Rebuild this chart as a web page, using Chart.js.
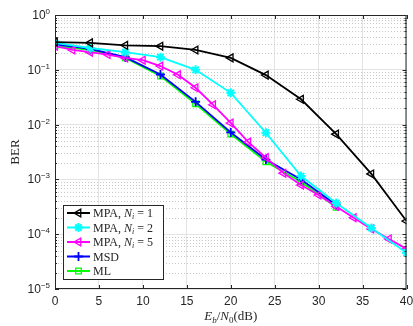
<!DOCTYPE html>
<html>
<head>
<meta charset="utf-8">
<script src="https://cdn.jsdelivr.net/npm/chart.js@4.4.1/dist/chart.umd.min.js"></script>
<style>
  html, body { margin: 0; padding: 0; background: #fff; }
  #wrap { width: 413px; height: 326px; }
</style>
</head>
<body>
<div id="wrap"><canvas id="myChart" width="413" height="326"></canvas></div>
<script>
// Eb/N0 grids (dB)
const snrCoarse = [0, 4, 8, 12, 16, 20, 24, 28, 32, 36, 40];
const snrFine = [0, 2, 4, 6, 8, 10, 12, 14, 16, 18, 20, 22, 24, 26, 28, 30, 32, 34, 36, 38, 40];
const snrShort = [0, 4, 8, 12, 16, 20, 24, 28, 32];

// BER values
const berMpa1 = [0.32, 0.31, 0.28, 0.27, 0.23, 0.165, 0.08, 0.029, 0.0067, 0.00126, 0.000174];
const berMpa2 = [0.31, 0.25, 0.21, 0.17, 0.10, 0.038, 0.0071, 0.00115, 0.00037, 0.00013, 0.000046];
const berMpa5 = [0.27, 0.23, 0.21, 0.19, 0.165, 0.15, 0.117, 0.081, 0.047, 0.023, 0.0107,
                 0.0048, 0.0025, 0.0013, 0.00079, 0.00052, 0.00032, 0.0002, 0.000125, 0.000082, 0.000054];
const berMsd = [0.29, 0.24, 0.17, 0.082, 0.026, 0.0072, 0.0023, 0.001, 0.00034];
const berMl = [0.27, 0.23, 0.165, 0.077, 0.024, 0.0067, 0.0021, 0.0009, 0.00031];

const xTicks = [0, 5, 10, 15, 20, 25, 30, 35, 40];
const yDecades = [0, -1, -2, -3, -4, -5];

function pts(xs, ys) {
  return xs.map((x, i) => ({ x: x, y: ys[i] }));
}

const isDecade = v => Math.abs(Math.log10(v) - Math.round(Math.log10(v))) < 1e-6;
const axisColor = '#262626';
const sansFont = '"Liberation Sans", Arial, sans-serif';

// minor dotted grid + box + inward ticks + tick labels
const frame = {
  id: 'frame',
  beforeDatasetsDraw(chart) {
    const { ctx, chartArea: a, scales: { y } } = chart;
    ctx.save();
    ctx.strokeStyle = '#c8c8c8';
    ctx.lineWidth = 1;
    ctx.setLineDash([1, 2]);
    for (let k = -5; k < 0; k++) {
      for (let m = 2; m <= 9; m++) {
        const py = Math.round(y.getPixelForValue(m * Math.pow(10, k))) + 0.5;
        ctx.beginPath();
        ctx.moveTo(a.left, py);
        ctx.lineTo(a.right, py);
        ctx.stroke();
      }
    }
    ctx.restore();
  },
  afterDatasetsDraw(chart) {
    const { ctx, chartArea: a, scales: { x, y } } = chart;
    ctx.save();
    ctx.strokeStyle = axisColor;
    ctx.lineWidth = 1;
    ctx.strokeRect(a.left + 0.5, a.top + 0.5, a.right - a.left - 1, a.bottom - a.top - 1);
    ctx.beginPath();
    xTicks.forEach(t => {
      const px = Math.round(x.getPixelForValue(t)) + 0.5;
      ctx.moveTo(px, a.bottom); ctx.lineTo(px, a.bottom - 4);
      ctx.moveTo(px, a.top); ctx.lineTo(px, a.top + 4);
    });
    for (let k = -5; k <= 0; k++) {
      for (let m = 1; m <= 9; m++) {
        if (k === 0 && m > 1) break;
        const len = m === 1 ? 4 : 2;
        const py = Math.round(y.getPixelForValue(m * Math.pow(10, k))) + 0.5;
        ctx.moveTo(a.left, py); ctx.lineTo(a.left + len, py);
        ctx.moveTo(a.right, py); ctx.lineTo(a.right - len, py);
      }
    }
    ctx.stroke();

    ctx.fillStyle = axisColor;
    // x tick labels
    ctx.font = '12px ' + sansFont;
    ctx.textAlign = 'center';
    ctx.textBaseline = 'middle';
    xTicks.forEach(t => ctx.fillText(String(t), x.getPixelForValue(t), a.bottom + 13));

    // y tick labels 10^k
    ctx.textBaseline = 'alphabetic';
    yDecades.forEach(k => {
      const py = y.getPixelForValue(Math.pow(10, k));
      const exp = String(k).replace('-', '\u2212');
      ctx.font = '8px ' + sansFont;
      const ew = ctx.measureText(exp).width;
      const ex = a.left - 5 - ew;
      ctx.textAlign = 'left';
      ctx.fillText(exp, ex, py - 1);
      ctx.font = '12px ' + sansFont;
      ctx.textAlign = 'right';
      ctx.fillText('10', ex, py + 4);
    });

    // axis titles
    ctx.textAlign = 'left';
    const cx = (a.left + a.right) / 2;
    const parts = [
      ['italic 13px "Liberation Serif", serif', 'E', 0],
      ['italic 9px "Liberation Serif", serif', 'b', 3],
      ['13px "Liberation Serif", serif', '/', 0],
      ['italic 13px "Liberation Serif", serif', 'N', 0],
      ['9px "Liberation Serif", serif', '0', 3],
      ['13px "Liberation Serif", serif', '(dB)', 0]
    ];
    let tw = 0;
    parts.forEach(p => { ctx.font = p[0]; tw += ctx.measureText(p[1]).width; });
    let tx = cx - tw / 2;
    parts.forEach(p => {
      ctx.font = p[0];
      ctx.fillText(p[1], tx, 320 + p[2]);
      tx += ctx.measureText(p[1]).width;
    });
    ctx.save();
    ctx.translate(19, (a.top + a.bottom) / 2);
    ctx.rotate(-Math.PI / 2);
    ctx.textAlign = 'center';
    ctx.font = '13px "Liberation Serif", serif';
    ctx.fillText('BER', 0, 0);
    ctx.restore();
    ctx.restore();
  }
};

// legend box in lower-left corner, MATLAB style
const boxLegend = {
  id: 'boxLegend',
  afterDraw(chart) {
    const { ctx } = chart;
    const sets = chart.data.datasets;
    const lx = 63, ly = 205, lw = 100, lh = 74;
    ctx.save();
    ctx.fillStyle = '#fff';
    ctx.fillRect(lx, ly, lw, lh);
    ctx.strokeStyle = axisColor;
    ctx.lineWidth = 1;
    ctx.strokeRect(lx + 0.5, ly + 0.5, lw, lh);
    sets.forEach((ds, i) => {
      const ry = ly + 8 + i * 14.5;
      ctx.strokeStyle = ds.borderColor;
      ctx.lineWidth = 2;
      ctx.setLineDash([]);
      ctx.beginPath();
      ctx.moveTo(lx + 4, ry); ctx.lineTo(lx + 27, ry);
      ctx.stroke();
      ctx.fillStyle = 'rgba(0,0,0,0)';
      ctx.lineWidth = ds.pointBorderWidth;
      Chart.helpers.drawPoint(ctx, {
        pointStyle: ds.pointStyle, rotation: ds.pointRotation || 0,
        radius: ds.pointRadius, borderWidth: ds.pointBorderWidth
      }, lx + 15.5, ry);
      ctx.fillStyle = axisColor;
      ctx.textBaseline = 'middle';
      ctx.textAlign = 'left';
      let tx = lx + 30;
      ds.legendParts.forEach(p => {
        ctx.font = p[0];
        ctx.fillText(p[1], tx, ry + 1 + p[2]);
        tx += ctx.measureText(p[1]).width;
      });
    });
    ctx.restore();
  }
};

const serif = '12px "Liberation Serif", serif';
const serifIt = 'italic 12px "Liberation Serif", serif';
const sub = 'italic 8px "Liberation Serif", serif';
function mpaParts(n) {
  return [[serif, 'MPA, ', 0], [serifIt, 'N', 0], [sub, 'i', 3], [serif, ' = ' + n, 0]];
}

function series(label, xs, ys, color, style, extra) {
  return Object.assign({
    label: label,
    data: pts(xs, ys),
    borderColor: color,
    backgroundColor: 'rgba(0,0,0,0)',
    borderWidth: 1.8,
    pointStyle: style,
    pointRadius: 4.5,
    pointBorderWidth: 1.3,
    pointBorderColor: color,
    pointBackgroundColor: 'rgba(0,0,0,0)',
    tension: 0
  }, extra || {});
}

new Chart('myChart', {
  type: 'line',
  data: {
    datasets: [
      series('MPA, Ni = 1', snrCoarse, berMpa1, '#000000', 'triangle',
             { pointRotation: -90, legendParts: mpaParts(1) }),
      series('MPA, Ni = 2', snrCoarse, berMpa2, '#00ffff', 'star',
             { pointBorderWidth: 2, legendParts: mpaParts(2) }),
      series('MPA, Ni = 5', snrFine, berMpa5, '#ff00ff', 'triangle',
             { pointRotation: -90, legendParts: mpaParts(5) }),
      series('MSD', snrShort, berMsd, '#0000ff', 'cross',
             { pointBorderWidth: 1.8, legendParts: [[serif, 'MSD', 0]] }),
      series('ML', snrShort, berMl, '#00ff00', 'rect',
             { pointRadius: 4, legendParts: [[serif, 'ML', 0]] })
    ]
  },
  options: {
    responsive: false,
    animation: false,
    devicePixelRatio: 1,
    layout: { padding: { top: 15, right: 6, left: 0, bottom: 0 } },
    plugins: {
      legend: { display: false },
      tooltip: { enabled: false }
    },
    scales: {
      x: {
        type: 'linear',
        min: 0, max: 40,
        afterFit: s => { s.height = 37; },
        afterBuildTicks: s => { s.ticks = xTicks.map(v => ({ value: v })); },
        ticks: { display: false },
        grid: { color: '#e3e3e3', drawTicks: false },
        border: { display: false }
      },
      y: {
        type: 'logarithmic',
        min: 1e-5, max: 1,
        afterFit: s => { s.width = 55; },
        ticks: { display: false },
        grid: {
          drawTicks: false,
          color: c => (c.tick && isDecade(c.tick.value)) ? '#e3e3e3' : 'rgba(0,0,0,0)'
        },
        border: { display: false }
      }
    }
  },
  plugins: [frame, boxLegend]
});
</script>
</body>
</html>
